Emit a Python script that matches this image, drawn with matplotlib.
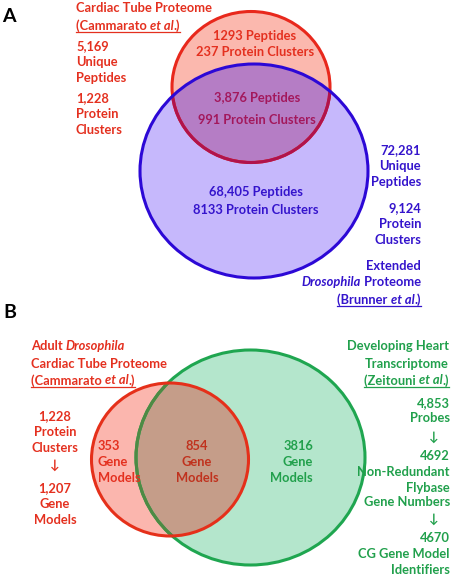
import matplotlib
matplotlib.use('Agg')
import matplotlib.pyplot as plt
from matplotlib.patches import Ellipse

# ---- data ----
# panel A: cardiac tube proteome vs extended Drosophila proteome
a_red_only = ['1293 Peptides', '237 Protein Clusters']
a_overlap = ['3,876 Peptides', '991 Protein Clusters']
a_blue_only = ['68,405 Peptides', '8133 Protein Clusters']
a_red_totals = ['5,169', 'Unique', 'Peptides', '1,228', 'Protein', 'Clusters']
a_blue_totals = ['72,281', 'Unique', 'Peptides', '9,124', 'Protein', 'Clusters']

# panel B: proteome gene models vs heart transcriptome
b_red_only = ['353', 'Gene', 'Models']
b_overlap = ['854', 'Gene', 'Models']
b_green_only = ['3816', 'Gene', 'Models']
b_red_steps = ['1,228', 'Protein', 'Clusters', '\u2193', '1,207', 'Gene', 'Models']
b_green_steps = ['4,853', 'Probes', '\u2193', '4692', 'Non-Redundant', 'Flybase',
                 'Gene Numbers', '\u2193', '4670', 'CG Gene Model', 'Identifiers']

W, H = 457, 577
FONT = ['Lato', 'DejaVu Sans']
FS = 9.3

RED = '#e4301f'
BLUE = '#3414cc'
GREEN = '#21a04c'
MAROON = '#a3185c'

fig = plt.figure(figsize=(W / 100, H / 100), dpi=100)
ax = fig.add_axes([0, 0, 1, 1])
ax.set_xlim(0, W)
ax.set_ylim(H, 0)
ax.axis('off')
renderer = fig.canvas.get_renderer()


def rich(x, y, segs, color, ha='left', underline=False, size=FS):
    # segs: list of (text, italic); y is the visual centre of the line
    items = []
    for s, it in segs:
        t = ax.text(0, y + 4.5, s, fontsize=size, fontweight='bold',
                    fontstyle='italic' if it else 'normal', color=color,
                    va='baseline', ha='left', family=FONT)
        w = t.get_window_extent(renderer).width
        items.append((t, w))
    total = sum(w for _, w in items)
    if ha == 'right':
        x0 = x - total
    elif ha == 'center':
        x0 = x - total / 2
    else:
        x0 = x
    cur = x0
    for t, w in items:
        t.set_x(cur)
        cur += w
    if underline:
        ax.plot([x0, x0 + total], [y + 7, y + 7], color=color, lw=0.9)


def lines(x, ys, texts, color, ha='left'):
    for yy, s in zip(ys, texts):
        rich(x, yy, [(s, False)], color, ha=ha)


def ell(cx, cy, w, h, **kw):
    e = Ellipse((cx, cy), w, h, **kw)
    ax.add_patch(e)
    return e


# ---- panel A ----
ell(251, 87, 158, 151, fc='#fbb8ae', ec='none')
blue_clip = ell(254, 171, 228, 214, fc='#c6b8fc', ec='none')
ov = ell(251, 87, 158, 151, fc='#b57dc5', ec='none')
ov.set_clip_path(blue_clip)
ell(251, 87, 158, 151, fc='none', ec='#e8281c', lw=2.2)
r2 = ell(251, 87, 158, 151, fc='none', ec='#b0134c', lw=2.2)
r2.set_clip_path(blue_clip)
ell(254, 171, 228, 214, fc='none', ec='#2c08d6', lw=2.2)

ax.text(2, 17, 'A', fontsize=14, fontweight='bold', family=FONT, va='center')

rich(76, 8, [('Cardiac Tube Proteome', False)], RED)
rich(76, 25, [('(Cammarato ', False), ('et al', True), ('.)', False)], RED, underline=True)
lines(76, [46, 62, 78, 98, 114, 130], a_red_totals, RED)

lines(255, [36, 52], a_red_only, RED, ha='center')
lines(257, [97, 120], a_overlap, MAROON, ha='center')
lines(256, [191, 209], a_blue_only, BLUE, ha='center')

lines(421, [150, 166, 181, 208, 223, 239], a_blue_totals, BLUE, ha='right')
rich(421, 265, [('Extended', False)], BLUE, ha='right')
rich(421, 282, [('Drosophila', True), (' Proteome', False)], BLUE, ha='right')
rich(421, 299, [('(Brunner ', False), ('et al', True), ('.)', False)], BLUE,
     ha='right', underline=True)

# ---- panel B ----
green_e = ell(250.5, 457.5, 229, 215, fc='#b4e6cc', ec='none')
red_e = ell(170, 459.5, 157, 153, fc='#fbb6ae', ec='none')
ovb = ell(250.5, 457.5, 229, 215, fc='#c59d89', ec='none')
ovb.set_clip_path(red_e)
ell(250.5, 457.5, 229, 215, fc='none', ec='#1fa650', lw=2.2)
g2 = ell(250.5, 457.5, 229, 215, fc='none', ec='#4e8a44', lw=2.2)
g2.set_clip_path(red_e)
ell(170, 459.5, 157, 153, fc='none', ec='#e5301a', lw=2.2)

ax.text(3, 313, 'B', fontsize=14, fontweight='bold', family=FONT, va='center')

rich(31, 346, [('Adult ', False), ('Drosophila', True)], RED)
rich(31, 363, [('Cardiac Tube Proteome', False)], RED)
rich(31, 380, [('(Cammarato ', False), ('et al', True), ('.)', False)], RED, underline=True)
lines(55, [416, 432, 448, 464, 488, 504, 520], b_red_steps, RED, ha='center')

lines(98, [446, 462, 478], b_red_only, RED)
lines(197, [446, 462, 478], b_overlap, '#c0321e', ha='center')
lines(313, [446, 462, 478], b_green_only, GREEN, ha='right')

rich(449, 346, [('Developing Heart', False)], GREEN, ha='right')
rich(449, 363, [('Transcriptome', False)], GREEN, ha='right')
rich(449, 380, [('(Zeitouni ', False), ('et al', True), ('.)', False)], GREEN,
     ha='right', underline=True)
ys = [403, 418, 436, 455, 471, 487, 502, 518, 538, 554, 569]
for yy, s in zip(ys, b_green_steps):
    if s == '\u2193':
        rich(434, yy, [(s, False)], GREEN, ha='center')
    else:
        rich(450, yy, [(s, False)], GREEN, ha='right')

fig.savefig('out.png', dpi=100)
